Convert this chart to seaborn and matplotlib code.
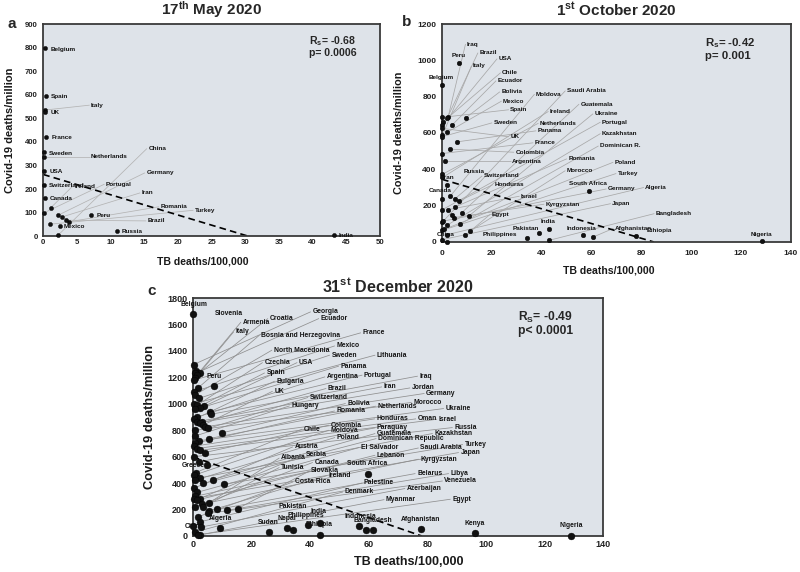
import numpy as np
import pandas as pd
import matplotlib
matplotlib.use("Agg")
import matplotlib.pyplot as plt
import seaborn as sns

# ---------------- Panel a : 17th May 2020 ----------------
a_countries = ["Belgium", "Spain", "Italy", "UK", "France", "Sweden", "Netherlands", "USA",
               "Switzerland", "Canada", "Ireland", "Portugal", "China", "Germany", "Iran",
               "Romania", "Turkey", "Brazil", "Mexico", "Peru", "Russia", "India"]
a_tb = [0.25, 0.35, 0.2, 0.2, 0.45, 0.1, 0.1, 0.1, 0.1, 0.2, 1.1, 0.1, 2.2, 2.2, 2.8,
        3.8, 1.0, 3.4, 2.5, 7.1, 10.9, 43.2]
a_covid = [797, 594, 535, 525, 422, 358, 337, 277, 216, 163, 120, 99, 4, 89, 82,
           61, 51, 68, 44, 89, 21, 4]
a_lab_x = [1.1, 1.1, 7.1, 1.1, 1.2, 0.9, 7.1, 0.9, 0.9, 0.9, 4.6, 9.3, 15.6, 15.3, 14.6,
           17.4, 22.5, 15.5, 3.1, 7.9, 11.6, 43.9]
a_lab_y = [794, 591, 556, 525, 420, 352, 337, 276, 214, 160, 213, 221, 372, 269, 184,
           125, 110, 65, 40, 86, 18, 2]
a_fit = [262, -8.6]          # Spearman trend: intercept, slope
a_stats = ["-0.68", "0.0006"]

# ---------------- Panel b : 1st October 2020 ----------------
b_countries = ["Belgium", "Peru", "Iraq", "Spain", "Brazil", "Bolivia", "Chile", "Ecuador",
               "USA", "UK", "Mexico", "Italy", "Sweden", "Panama", "Colombia", "France",
               "Argentina", "Netherlands", "Ireland", "Iran", "Moldova", "Canada",
               "Switzerland", "Honduras", "Romania", "Israel", "Portugal", "Guatemala",
               "Ukraine", "Kyrgyzstan", "Saudi Arabia", "Dominican R.", "Kazakhstan",
               "Germany", "Turkey", "Poland", "Morocco", "Egypt", "Algeria", "Japan",
               "China", "Russia", "Bangladesh", "Philippines", "Pakistan", "India",
               "Indonesia", "Afghanistan", "Ethiopia", "South Africa", "Nigeria"]
b_tb = [0.2, 6.8, 2.5, 0.2, 2.0, 9.6, 0.3, 4.0, 0.2, 0.2, 2.0, 0.2, 0.2, 6.0, 3.1, 0.2,
        1.1, 0.2, 0.2, 2.0, 3.3, 0.2, 5.3, 6.7, 5.3, 2.4, 0.2, 8.0, 10.7, 4.7, 0.2, 7.1,
        2.0, 0.6, 0.2, 1.0, 11.4, 9.4, 2.0, 0.2, 2.0, 4.0, 43.0, 34.0, 38.8, 42.8, 56.6,
        60.8, 78.0, 59.2, 128.6]
b_covid = [864, 983, 690, 686, 680, 684, 660, 643, 643, 625, 603, 588, 580, 551, 511, 487,
           445, 373, 355, 312, 252, 239, 239, 224, 193, 178, 178, 162, 142, 134, 110, 97,
           92, 115, 64, 70, 61, 37, 40, 13, 2, 150, 9, 24, 51, 70, 37, 28, 33, 279, 6]
b_lab_x = [-5.3, 3.7, 10.0, 27.4, 15.0, 23.8, 24.1, 22.3, 22.7, 27.4, 24.5, 12.4, 20.7,
           38.4, 29.5, 37.2, 28.1, 39.3, 43.3, 0.4, 37.7, -5.3, 16.7, 21.0, 50.7, 31.7,
           64.2, 55.6, 61.2, 41.6, 50.1, 63.4, 64.2, 66.6, 70.5, 69.3, 50.1, 19.8, 81.6,
           68.3, -2.0, 8.7, 85.8, 16.2, 28.2, 39.6, 49.9, 69.4, 82.0, 50.8, 123.9]
b_lab_y = [906, 1026, 1090, 728, 1042, 827, 932, 888, 1009, 579, 776, 969, 656, 612, 494,
           546, 445, 654, 719, 353, 814, 285, 364, 316, 458, 252, 660, 759, 706, 208, 833,
           529, 597, 292, 377, 439, 393, 151, 300, 211, 42, 386, 156, 40, 72, 110, 75, 75,
           64, 324, 42]
b_fit = [345, -4.06]
b_stats = ["-0.42", "0.001"]

# ---------------- Panel c : 31st December 2020 ----------------
c_countries = ["Georgia", "Slovenia", "Croatia", "Ecuador", "Armenia", "Italy", "France",
               "Bosnia and Herzegovina", "Mexico", "North Macedonia", "Sweden", "Lithuania",
               "Czechia", "USA", "Panama", "Spain", "Portugal", "Iraq", "Argentina",
               "Bulgaria", "Iran", "Jordan", "Brazil", "UK", "Germany", "Switzerland",
               "Morocco", "Bolivia", "Hungary", "Netherlands", "Ukraine", "Romania",
               "Honduras", "Oman", "Israel", "Colombia", "Russia", "Paraguay", "Chile",
               "Moldova", "Kazakhstan", "Guatemala", "Poland", "Dominican Republic", "Turkey",
               "Austria", "El Salvador", "Saudi Arabia", "Japan", "Serbia", "Lebanon",
               "Albania", "Kyrgyzstan", "Canada", "Tunisia", "Slovakia", "Belarus", "Libya",
               "Ireland", "Venezuela", "Costa Rica", "Palestine", "Azerbaijan", "Denmark",
               "Egypt", "Myanmar",
               "Belgium", "Peru", "Greece", "South Africa", "Pakistan", "Algeria", "China",
               "Sudan", "Nepal", "Philippines", "India", "Ethiopia", "Indonesia",
               "Bangladesh", "", "Afghanistan", "Kenya", "Nigeria"]
c_tb = [0.3, 1.0, 2.3, 0.9, 1.4, 0.9, 0.5, 1.8, 0.3, 0.6, 2.0, 0.4, 1.3, 3.8, 2.4, 0.6,
        5.9, 6.3, 1.5, 0.4, 1.3, 3.0, 2.4, 3.5, 4.3, 5.2, 0.8, 10.0, 0.9, 5.6, 2.0, 0.6,
        0.4, 1.3, 2.6, 4.1, 0.5, 2.0, 1.0, 0.3, 2.5, 7.0, 0.6, 3.6, 10.7, 0.3, 1.5, 0.8,
        0.3, 2.4, 1.3, 5.5, 3.0, 0.9, 3.5, 15.3, 8.4, 11.6, 5.5, 5.2, 1.7, 2.3, 2.9, 0.9,
        2.3, 1.7,
        0.2, 7.3, 4.8, 59.6, 32.0, 9.3, 0.2, 26.1, 34.2, 39.2, 43.4, 43.4, 56.8, 59.0,
        61.5, 77.8, 96.3, 129.0]
c_covid = [1297, 1250, 1235, 1229, 1217, 1196, 1180, 1120, 1090, 1065, 1040, 1000, 987, 980,
           967, 960, 938, 921, 900, 881, 863, 860, 851, 838, 826, 813, 800, 780, 757, 737,
           720, 700, 679, 661, 648, 631, 600, 560, 480, 459, 440, 427, 421, 397, 391, 361,
           330, 300, 283, 283, 270, 250, 240, 220, 220, 207, 201, 194, 190, 170, 144, 106,
           68, 30, 10, 5,
           1680, 1136, 537, 472, 61, 61, 73, 28, 43, 81, 101, 10, 76, 43, 43, 51, 26, 0]
c_lab_x = [40.8, 7.4, 26.2, 43.6, 17.0, 14.5, 57.9, 23.3, 49.0, 27.6, 47.3, 62.8, 24.4, 36.2,
           50.4, 25.1, 58.4, 77.3, 45.7, 28.5, 65.1, 74.7, 46.1, 27.8, 79.6, 39.9, 75.2,
           52.7, 33.6, 63.0, 86.2, 49.0, 62.7, 76.7, 83.9, 47.0, 89.2, 62.8, 37.9, 47.0,
           82.4, 62.8, 49.1, 63.2, 92.7, 34.7, 57.3, 77.6, 91.3, 38.5, 62.8, 30.1, 77.6,
           41.5, 30.1, 40.4, 76.5, 87.9, 46.4, 85.8, 34.8, 58.4, 73.0, 51.8, 88.5, 65.9,
           -4.1, 4.6, -3.8, 52.5, 29.1, 5.6, -2.9, 22.3, 28.8, 32.2, 40.2, 38.5, 51.6,
           54.8, 0, 71.0, 92.7, 125.2]
c_lab_y = [1696, 1683, 1645, 1645, 1618, 1544, 1537, 1519, 1438, 1406, 1368, 1368, 1312,
           1312, 1285, 1234, 1217, 1209, 1204, 1171, 1128, 1120, 1116, 1095, 1078, 1048,
           1010, 1002, 984, 982, 964, 946, 886, 886, 883, 838, 820, 818, 808, 800, 775, 775,
           745, 737, 692, 674, 669, 666, 631, 616, 611, 590, 581, 556, 518, 492, 472, 472,
           457, 416, 409, 401, 359, 333, 278, 275,
           1754, 1204, 535, 548, 225, 131, 73, 101, 131, 157, 182, 86, 149, 119, 0, 124, 98,
           76]
c_fit = [598, -7.66]
c_stats = ["-0.49", "0.0001"]

# ---------------- style ----------------
sns.set_theme(style="white")
plt.rcParams["font.family"] = ["Liberation Sans", "DejaVu Sans"]
plt.rcParams["font.weight"] = "bold"
plt.rcParams["mathtext.fontset"] = "custom"
plt.rcParams["mathtext.rm"] = "Liberation Sans:bold"
plt.rcParams["mathtext.it"] = "Liberation Sans:bold"
plt.rcParams["mathtext.bf"] = "Liberation Sans:bold"

BG = "#dee3e9"
fig = plt.figure(figsize=(8, 5.72), dpi=100)
fig.patch.set_facecolor("white")


def panel(ax, countries, tb, covid, labx, laby, fit, xmax, ymax, xstep, ystep,
          psize, lfs, tfs, thresh, linecol, title, letter_sub, stats, sfs,
          stat_xy, ylab_fs, xlab_fs, xlab_xy, ylab_x, tickpad_x, title_pad, title_fs,
          p_sign="="):
    ax.set_facecolor(BG)
    df = pd.DataFrame({"tb": tb, "covid": covid})
    gap = xmax * 0.004
    for c, x, y, lx, ly in zip(countries, tb, covid, labx, laby):
        if not c:
            continue
        if lx - x > thresh:
            ax.plot([x, lx - gap], [y, ly], color=linecol, lw=0.55, zorder=1,
                    solid_capstyle="butt")
        ax.text(lx, ly, c, fontsize=lfs, ha="left", va="center", fontweight="bold",
                color="#141414", zorder=3)
    xs = np.array([0.0, -fit[0] / fit[1]])
    ax.plot(xs, fit[0] + fit[1] * xs, ls=(0, (4, 2.5)), color="black", lw=1.2, zorder=2)
    sns.scatterplot(data=df, x="tb", y="covid", ax=ax, s=psize, color="#111111",
                    edgecolor="#000000", linewidth=0.3, zorder=4, clip_on=False,
                    legend=False)
    ax.set_xlim(0, xmax)
    ax.set_ylim(0, ymax)
    ax.set_xticks(np.arange(0, xmax + 0.1, xstep))
    ax.set_yticks(np.arange(0, ymax + 0.1, ystep))
    ax.tick_params(length=0, labelsize=tfs, colors="#222222")
    ax.tick_params(axis="x", pad=tickpad_x)
    ax.tick_params(axis="y", pad=4)
    for s in ax.spines.values():
        s.set_visible(True)
        s.set_color("#3a3a3a")
        s.set_linewidth(1.3)
    ax.set_xlabel("TB deaths/100,000", fontsize=xlab_fs, fontweight="bold",
                  color="#1a1a1a")
    ax.xaxis.set_label_coords(xlab_xy[0], xlab_xy[1])
    ax.set_ylabel("Covid-19 deaths/million", fontsize=ylab_fs, fontweight="bold",
                  color="#1a1a1a")
    ax.yaxis.set_label_coords(ylab_x, 0.5)
    ax.set_title(title, fontsize=title_fs, fontweight="bold", pad=title_pad)
    ax.text(stat_xy[0], stat_xy[1], "R$_{\\mathrm{" + letter_sub + "}}$= " + stats[0],
            transform=ax.transAxes, fontsize=sfs, fontweight="bold", va="center",
            ha="left")
    ax.text(stat_xy[0], stat_xy[1] - 0.058, "p" + p_sign + " " + stats[1],
            transform=ax.transAxes, fontsize=sfs, fontweight="bold", va="center",
            ha="left")


axA = fig.add_axes([0.054, 0.587, 0.421, 0.371])
axB = fig.add_axes([0.5525, 0.577, 0.436, 0.381])
axC = fig.add_axes([0.241, 0.063, 0.513, 0.416])

# xlabel coords: axes fraction of the label's top-centre; ylabel coords: axes fraction
panel(axA, a_countries, a_tb, a_covid, a_lab_x, a_lab_y, a_fit, 50, 900, 5, 100,
      9, 4.6, 5.6, 2.0, "#b4b4b4", "17$^{\\mathrm{th}}$ May 2020", "s", a_stats, 7.6,
      (0.79, 0.92), 8.0, 7.6, (0.475, -0.095), -0.085, 2, 7, 11)
panel(axB, b_countries, b_tb, b_covid, b_lab_x, b_lab_y, b_fit, 140, 1200, 20, 200,
      11, 4.6, 6.0, 7.0, "#a8a8a8", "1$^{\\mathrm{st}}$ October 2020", "s", b_stats, 8.2,
      (0.754, 0.913), 7.8, 7.6, (0.478, -0.11), -0.11, 6, 6, 11)
panel(axC, c_countries, c_tb, c_covid, c_lab_x, c_lab_y, c_fit, 140, 1800, 20, 200,
      24, 4.9, 6.5, 7.0, "#8f8f8f", "31$^{\\mathrm{st}}$ December 2020", "S", c_stats, 8.7,
      (0.793, 0.92), 9.3, 9.0, (0.527, -0.085), -0.09, 3, 4, 11.5, p_sign="<")

fig.text(7 / 800, 1 - 24 / 572, "a", fontsize=11, fontweight="bold", va="center")
fig.text(402 / 800, 1 - 22 / 572, "b", fontsize=11, fontweight="bold", va="center")
fig.text(147 / 800, 1 - 291 / 572, "c", fontsize=11, fontweight="bold", va="center")

fig.savefig("out.png", dpi=100, facecolor="white")
